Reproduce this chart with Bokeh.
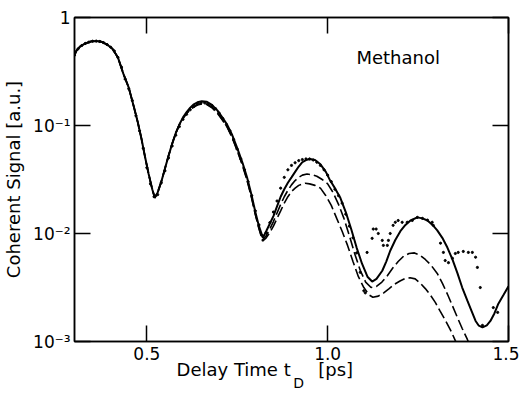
from bokeh.plotting import figure
from bokeh.models import (Range1d, FixedTicker, CustomJSTickFormatter, LinearAxis,
                          LogAxis, Label)
from bokeh.embed import file_html
from bokeh.resources import INLINE

# ---------------- data ----------------
x_tick_values = [0.5, 1.0, 1.5]
x_tick_labels = ["0.5", "1.0", "1.5"]
y_tick_values = [1e-3, 1e-2, 1e-1, 1.0]
y_tick_labels = ["10⁻³", "10⁻²", "10⁻¹", "1"]
x_title_parts = ["Delay Time t", "[ps]"]
x_title_sub = ["D"]

# solid curve
solid_t = [0.300, 0.305, 0.315, 0.330, 0.345, 0.360, 0.375, 0.390, 0.405, 0.420,
           0.435, 0.450, 0.465, 0.475, 0.485, 0.495, 0.505, 0.515, 0.522, 0.530,
           0.540, 0.550, 0.560, 0.570, 0.580, 0.590, 0.600, 0.610, 0.620, 0.630,
           0.640, 0.652, 0.665, 0.680, 0.695, 0.710, 0.722, 0.735, 0.750, 0.765,
           0.777, 0.790, 0.800, 0.810, 0.821, 0.830, 0.840, 0.850, 0.860, 0.870,
           0.880, 0.890, 0.900, 0.910, 0.920, 0.930, 0.940, 0.951, 0.965, 0.980,
           0.995, 1.007, 1.020, 1.035, 1.050, 1.065, 1.080, 1.095, 1.110, 1.123,
           1.135, 1.151, 1.162, 1.173, 1.187, 1.201, 1.215, 1.229, 1.248, 1.262,
           1.276, 1.290, 1.303, 1.317, 1.331, 1.345, 1.359, 1.372, 1.386, 1.398,
           1.409, 1.418, 1.428, 1.440, 1.450, 1.461, 1.472, 1.486, 1.500]
solid_s = [0.447, 0.490, 0.537, 0.575, 0.600, 0.605, 0.596, 0.562, 0.513, 0.427,
           0.302, 0.224, 0.145, 0.107, 0.0759, 0.0513, 0.0355, 0.0257, 0.0214, 0.0240,
           0.0302, 0.0398, 0.0525, 0.0676, 0.0851, 0.102, 0.119, 0.133, 0.146, 0.157,
           0.164, 0.168, 0.166, 0.155, 0.138, 0.117, 0.102, 0.0832, 0.0617, 0.0447,
           0.0331, 0.0224, 0.0158, 0.0117, 0.00912, 0.0105, 0.0123, 0.0145, 0.0178, 0.0219,
           0.0257, 0.0295, 0.0331, 0.0372, 0.0417, 0.0457, 0.0479, 0.0490, 0.0479, 0.0437,
           0.0372, 0.0309, 0.0263, 0.0214, 0.0158, 0.0110, 0.00741, 0.00525, 0.00398, 0.00359,
           0.00380, 0.00452, 0.00550, 0.00692, 0.00871, 0.0105, 0.0120, 0.0132, 0.0141, 0.0138,
           0.0132, 0.0120, 0.0107, 0.00912, 0.00741, 0.00575, 0.00427, 0.00316, 0.00240, 0.00191,
           0.00155, 0.00140, 0.00135, 0.00141, 0.00155, 0.00182, 0.00224, 0.00269, 0.00324]

# upper dashed curve
dash1_t = [0.300, 0.305, 0.315, 0.330, 0.345, 0.360, 0.375, 0.390, 0.405, 0.420,
           0.435, 0.450, 0.465, 0.475, 0.485, 0.495, 0.505, 0.515, 0.522, 0.530,
           0.540, 0.550, 0.560, 0.570, 0.580, 0.590, 0.600, 0.610, 0.620, 0.630,
           0.640, 0.652, 0.665, 0.680, 0.695, 0.710, 0.722, 0.735, 0.750, 0.765,
           0.777, 0.790, 0.800, 0.810, 0.820, 0.830, 0.840, 0.850, 0.860, 0.870,
           0.880, 0.890, 0.900, 0.910, 0.920, 0.930, 0.943, 0.955, 0.970, 0.985,
           1.000, 1.015, 1.030, 1.045, 1.060, 1.075, 1.090, 1.105, 1.120, 1.135,
           1.150, 1.165, 1.180, 1.195, 1.210, 1.225, 1.240, 1.255, 1.270, 1.285,
           1.303, 1.317, 1.331, 1.345, 1.359, 1.372, 1.386, 1.395]
dash1_s = [0.447, 0.490, 0.537, 0.575, 0.600, 0.605, 0.596, 0.562, 0.513, 0.427,
           0.302, 0.224, 0.145, 0.107, 0.0759, 0.0513, 0.0355, 0.0257, 0.0214, 0.0240,
           0.0302, 0.0398, 0.0525, 0.0676, 0.0851, 0.102, 0.117, 0.130, 0.141, 0.150,
           0.157, 0.160, 0.158, 0.148, 0.132, 0.112, 0.0977, 0.0794, 0.0589, 0.0427,
           0.0316, 0.0214, 0.0151, 0.0112, 0.00871, 0.00955, 0.0110, 0.0129, 0.0155, 0.0186,
           0.0219, 0.0251, 0.0282, 0.0309, 0.0331, 0.0347, 0.0355, 0.0351, 0.0339, 0.0316,
           0.0288, 0.0240, 0.0186, 0.0138, 0.00955, 0.00646, 0.00457, 0.00355, 0.00316, 0.00324,
           0.00355, 0.00407, 0.00479, 0.00550, 0.00617, 0.00653, 0.00661, 0.00631, 0.00575, 0.00513,
           0.00427, 0.00347, 0.00275, 0.00214, 0.00166, 0.00132, 0.00105, 0.00089]

# lower dashed curve
dash2_t = [0.300, 0.305, 0.315, 0.330, 0.345, 0.360, 0.375, 0.390, 0.405, 0.420,
           0.435, 0.450, 0.465, 0.475, 0.485, 0.495, 0.505, 0.515, 0.522, 0.530,
           0.540, 0.550, 0.560, 0.570, 0.580, 0.590, 0.600, 0.610, 0.620, 0.630,
           0.640, 0.652, 0.665, 0.680, 0.695, 0.710, 0.722, 0.735, 0.750, 0.765,
           0.777, 0.790, 0.800, 0.810, 0.820, 0.830, 0.840, 0.850, 0.860, 0.870,
           0.880, 0.890, 0.900, 0.910, 0.920, 0.930, 0.938, 0.950, 0.965, 0.980,
           0.995, 1.010, 1.025, 1.040, 1.055, 1.070, 1.085, 1.100, 1.115, 1.125,
           1.140, 1.155, 1.170, 1.185, 1.200, 1.215, 1.228, 1.242, 1.256, 1.270,
           1.284, 1.298, 1.311, 1.325, 1.339, 1.353, 1.360]
dash2_s = [0.447, 0.490, 0.537, 0.575, 0.600, 0.605, 0.596, 0.562, 0.513, 0.427,
           0.302, 0.224, 0.145, 0.107, 0.0759, 0.0513, 0.0355, 0.0257, 0.0214, 0.0240,
           0.0302, 0.0398, 0.0525, 0.0676, 0.0851, 0.102, 0.116, 0.129, 0.140, 0.148,
           0.155, 0.158, 0.157, 0.146, 0.130, 0.111, 0.0966, 0.0785, 0.0582, 0.0422,
           0.0313, 0.0211, 0.0150, 0.0111, 0.00851, 0.00912, 0.0102, 0.0117, 0.0138, 0.0162,
           0.0191, 0.0219, 0.0245, 0.0263, 0.0279, 0.0288, 0.0292, 0.0288, 0.0279, 0.0263,
           0.0224, 0.0182, 0.0138, 0.0105, 0.00776, 0.00550, 0.00398, 0.00316, 0.00269, 0.00257,
           0.00263, 0.00282, 0.00309, 0.00339, 0.00363, 0.00385, 0.00389, 0.00380, 0.00347, 0.00309,
           0.00269, 0.00229, 0.00191, 0.00158, 0.00129, 0.00102, 0.00091]

# measured points (dotted)
meas_t = [0.30, 0.31, 0.32, 0.33, 0.34, 0.35, 0.36, 0.37, 0.38, 0.39,
          0.40, 0.41, 0.42, 0.43, 0.44, 0.45, 0.46, 0.47, 0.48, 0.49,
          0.50, 0.51, 0.52, 0.53, 0.54, 0.55, 0.56, 0.57, 0.58, 0.59,
          0.60, 0.61, 0.62, 0.63, 0.64, 0.65, 0.66, 0.67, 0.68, 0.69,
          0.70, 0.71, 0.72, 0.73, 0.74, 0.75, 0.76, 0.77, 0.78, 0.79,
          0.80, 0.81, 0.82, 0.83, 0.84, 0.85, 0.86, 0.87, 0.88, 0.89,
          0.90, 0.91, 0.92, 0.93, 0.94, 0.95, 0.96, 0.97, 0.98, 0.99,
          1.00, 1.01, 1.02, 1.03, 1.04, 1.05, 1.06, 1.07, 1.08, 1.09,
          1.100, 1.104, 1.109, 1.123, 1.126, 1.134, 1.140, 1.151, 1.154, 1.165,
          1.168, 1.173, 1.181, 1.187, 1.195, 1.206, 1.220, 1.234, 1.248, 1.262,
          1.276, 1.289, 1.292, 1.312, 1.320, 1.325, 1.334, 1.345, 1.353, 1.361,
          1.375, 1.389, 1.400, 1.409, 1.414, 1.422, 1.428, 1.458, 1.470]
meas_s = [0.447, 0.513, 0.550, 0.575, 0.592, 0.603, 0.605, 0.600, 0.586, 0.562,
          0.531, 0.490, 0.427, 0.347, 0.269, 0.219, 0.170, 0.123, 0.0891, 0.0617,
          0.0407, 0.0288, 0.0219, 0.0229, 0.0295, 0.0380, 0.0501, 0.0646, 0.0813, 0.0977,
          0.114, 0.127, 0.140, 0.150, 0.158, 0.162, 0.162, 0.158, 0.153, 0.143,
          0.130, 0.116, 0.102, 0.0891, 0.0741, 0.0603, 0.0490, 0.0389, 0.0302, 0.0224,
          0.0162, 0.0120, 0.00955, 0.0102, 0.0126, 0.0158, 0.0200, 0.0263, 0.0331, 0.0389,
          0.0427, 0.0452, 0.0473, 0.0484, 0.0490, 0.0490, 0.0479, 0.0457, 0.0427, 0.0389,
          0.0347, 0.0302, 0.0257, 0.0224, 0.0191, 0.0151, 0.0117, 0.00912, 0.00661, 0.00437,
          0.00295, 0.00282, 0.00668, 0.00902, 0.0110, 0.0110, 0.0100, 0.00863, 0.00776, 0.00776,
          0.00863, 0.0100, 0.0119, 0.0127, 0.0132, 0.0127, 0.0127, 0.0132, 0.0141, 0.0138,
          0.0133, 0.0127, 0.0119, 0.00813, 0.00668, 0.00562, 0.00537, 0.00589, 0.00653, 0.00668,
          0.00682, 0.00668, 0.00668, 0.00603, 0.00485, 0.00316, 0.00141, 0.00206, 0.00186]

# ---------------- figure ----------------
FONT = "DejaVu Sans"

p = figure(width=519, height=393, output_backend="svg", toolbar_location=None,
           x_range=Range1d(0.3, 1.5), y_range=Range1d(1e-3, 1.0),
           y_axis_type="log", x_axis_location="below",
           min_border_left=74, min_border_right=11, min_border_top=17,
           min_border_bottom=52, background_fill_color="white",
           border_fill_color="white")
p.grid.visible = False
p.outline_line_color = "black"
p.outline_line_width = 1.5

p.line(solid_t, solid_s, line_color="black", line_width=2.0)
p.line(dash1_t, dash1_s, line_color="black", line_width=1.6, line_dash="11 4")
p.line(dash2_t, dash2_s, line_color="black", line_width=1.6, line_dash="11 4")
p.scatter(meas_t, meas_s, size=2.2, marker="circle", color="black")

NEAREST = """
let b = 0;
for (let i = 0; i < vals.length; i++) { if (Math.abs(vals[i]-tick) < Math.abs(vals[b]-tick)) b = i; }
return labs[b];
"""
x_fmt = CustomJSTickFormatter(args=dict(vals=x_tick_values, labs=x_tick_labels), code=NEAREST)
y_fmt = CustomJSTickFormatter(args=dict(vals=y_tick_values, labs=y_tick_labels), code="""
let b = 0;
const lt = Math.log10(tick);
for (let i = 0; i < vals.length; i++) {
  if (Math.abs(Math.log10(vals[i])-lt) < Math.abs(Math.log10(vals[b])-lt)) b = i;
}
return labs[b];
""")
blank = CustomJSTickFormatter(code="return '';")

def style(ax):
    ax.axis_line_color = "black"
    ax.axis_line_width = 1.5
    ax.major_tick_in = 16
    ax.major_tick_out = 0
    ax.major_tick_line_width = 1.5
    ax.major_tick_line_color = "black"
    ax.minor_tick_line_color = None
    ax.major_label_text_font = FONT
    ax.major_label_text_font_size = "17px"
    ax.major_label_text_color = "black"

xa = p.xaxis[0]
style(xa)
xa.ticker = FixedTicker(ticks=x_tick_values)
xa.formatter = x_fmt
xa.major_label_standoff = 5

ya = p.yaxis[0]
style(ya)
ya.ticker = FixedTicker(ticks=y_tick_values)
ya.formatter = y_fmt
ya.major_label_standoff = 4
ya.axis_label = "Coherent Signal [a.u.]"
ya.axis_label_text_font = FONT
ya.axis_label_text_font_size = "18px"
ya.axis_label_text_font_style = "normal"
ya.axis_label_text_color = "black"
ya.axis_label_standoff = 6

top = LinearAxis(ticker=FixedTicker(ticks=x_tick_values), formatter=blank)
style(top)
p.add_layout(top, "above")
right = LogAxis(ticker=FixedTicker(ticks=y_tick_values), formatter=blank)
style(right)
p.add_layout(right, "right")

# x-axis title "Delay Time t_D [ps]": rows of text below the tick labels
def text_row(pos, labels, size, standoff):
    ax = LinearAxis(ticker=FixedTicker(ticks=pos),
                    formatter=CustomJSTickFormatter(args=dict(vals=pos, labs=labels), code=NEAREST))
    ax.axis_line_color = None
    ax.major_tick_line_color = None
    ax.minor_tick_line_color = None
    ax.major_tick_in = 0
    ax.major_tick_out = 0
    ax.major_label_standoff = standoff
    ax.major_label_text_font = FONT
    ax.major_label_text_font_size = size
    ax.major_label_text_color = "black"
    p.add_layout(ax, "below")

text_row([0.740, 1.022], x_title_parts, "18px", -4)
text_row([0.920], x_title_sub, "14px", -8)

p.add_layout(Label(x=1.195, y=0.43, text="Methanol", text_align="center",
                   text_baseline="middle", text_font=FONT, text_font_size="18px",
                   text_color="black"))

open("out.html", "w").write(file_html(p, INLINE))
